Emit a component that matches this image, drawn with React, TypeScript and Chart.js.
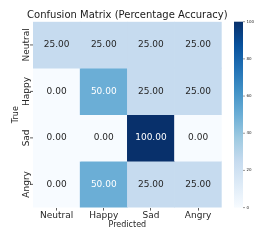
import React, { useEffect, useRef } from "react";
import { Chart, registerables } from "chart.js";

Chart.register(...registerables);

const predictedLabels = ["Neutral", "Happy", "Sad", "Angry"];
const trueLabels = ["Neutral", "Happy", "Sad", "Angry"];
const rowNeutral = [25, 25, 25, 25];
const rowHappy = [0, 50, 25, 25];
const rowSad = [0, 0, 100, 0];
const rowAngry = [0, 50, 25, 25];
const matrix = [rowNeutral, rowHappy, rowSad, rowAngry];
const colorbarTicks = [0, 20, 40, 60, 80, 100];
const titleText = "Confusion Matrix (Percentage Accuracy)";
const xTitle = "Predicted";
const yTitle = "True";

const FONT = "'DejaVu Sans', sans-serif";

const blues = ["#f7fbff", "#deebf7", "#c6dbef", "#9ecae1", "#6baed6", "#4292c6", "#2171b5", "#08519c", "#08306b"];

function hexToRgb(h: string) {
  return [parseInt(h.slice(1, 3), 16), parseInt(h.slice(3, 5), 16), parseInt(h.slice(5, 7), 16)];
}
function bluesColor(v: number) {
  const t = Math.max(0, Math.min(1, v / 100)) * (blues.length - 1);
  const i = Math.min(blues.length - 2, Math.floor(t));
  const f = t - i;
  const a = hexToRgb(blues[i]);
  const b = hexToRgb(blues[i + 1]);
  const c = a.map((x, k) => Math.round(x + (b[k] - x) * f));
  return `rgb(${c[0]},${c[1]},${c[2]})`;
}

export default function App() {
  const ref = useRef<HTMLCanvasElement | null>(null);
  useEffect(() => {
    document.body.style.margin = "0";
    const canvas = ref.current!;
    const overlay = {
      id: "overlay",
      afterDatasetsDraw(chart: any) {
        const ctx = chart.ctx;
        const ca = chart.chartArea;
        const xs = chart.scales.x;
        const ys = chart.scales.y;
        ctx.save();
        // cell values
        chart.data.datasets.forEach((ds: any, r: number) => {
          const meta = chart.getDatasetMeta(r);
          meta.data.forEach((el: any, c: number) => {
            const v = matrix[r][c];
            const p = el.getCenterPoint();
            ctx.fillStyle = v >= 40 ? "#ffffff" : "#262626";
            ctx.font = `9px ${FONT}`;
            ctx.textAlign = "center";
            ctx.textBaseline = "middle";
            ctx.fillText(v.toFixed(2), p.x, p.y);
          });
        });
        // y tick labels (rotated) and tick marks
        trueLabels.forEach((lab, r) => {
          const y = ys.getPixelForValue(r + 0.5);
          ctx.strokeStyle = "#333";
          ctx.lineWidth = 0.8;
          ctx.beginPath();
          ctx.moveTo(ca.left - 3, y);
          ctx.lineTo(ca.left, y);
          ctx.stroke();
          ctx.save();
          ctx.translate(ca.left - 4.5, y);
          ctx.rotate(-Math.PI / 2);
          ctx.fillStyle = "#262626";
          ctx.font = `9px ${FONT}`;
          ctx.textAlign = "center";
          ctx.textBaseline = "alphabetic";
          ctx.fillText(lab, 0, 0);
          ctx.restore();
        });
        // y title
        ctx.save();
        ctx.translate(18.3, (ca.top + ca.bottom) / 2);
        ctx.rotate(-Math.PI / 2);
        ctx.fillStyle = "#262626";
        ctx.font = `8px ${FONT}`;
        ctx.textAlign = "center";
        ctx.textBaseline = "alphabetic";
        ctx.fillText(yTitle, 0, 0);
        ctx.restore();
        // title
        ctx.fillStyle = "#1a1a1a";
        ctx.font = `10px ${FONT}`;
        ctx.textAlign = "center";
        ctx.textBaseline = "alphabetic";
        ctx.fillText(titleText, (ca.left + ca.right) / 2, 18.3);
        // colorbar
        const cb = chart.scales.cb;
        const cbL = ca.right + 12.3;
        const cbR = cbL + 9;
        const top = cb.getPixelForValue(100);
        const bot = cb.getPixelForValue(0);
        const g = ctx.createLinearGradient(0, bot, 0, top);
        blues.forEach((col, i) => g.addColorStop(i / (blues.length - 1), col));
        ctx.fillStyle = g;
        ctx.fillRect(cbL, top, cbR - cbL, bot - top);
        colorbarTicks.forEach((t) => {
          const y = cb.getPixelForValue(t);
          ctx.strokeStyle = "#333";
          ctx.lineWidth = 0.5;
          ctx.beginPath();
          ctx.moveTo(cbR, y);
          ctx.lineTo(cbR + 2, y);
          ctx.stroke();
          ctx.fillStyle = "#262626";
          ctx.font = `4px ${FONT}`;
          ctx.textAlign = "left";
          ctx.textBaseline = "middle";
          ctx.fillText(String(t), cbR + 3.5, y);
        });
        ctx.restore();
      },
    };
    const chart = new Chart(canvas, {
      type: "bar",
      data: {
        labels: predictedLabels,
        datasets: matrix.map((row, r) => ({
          label: trueLabels[r],
          data: row.map(() => 1),
          backgroundColor: row.map((v) => bluesColor(v)),
          borderWidth: 0,
          barPercentage: 1,
          categoryPercentage: 1,
        })),
      },
      options: {
        animation: false,
        responsive: false,
        maintainAspectRatio: false,
        layout: { padding: { left: 33, right: 44.3, top: 21.7, bottom: 13.2 } },
        plugins: { legend: { display: false }, tooltip: { enabled: false }, title: { display: false } },
        scales: {
          x: {
            stacked: true,
            grid: { display: true, drawOnChartArea: false, drawTicks: true, tickLength: 3, offset: false, color: "#333", lineWidth: 0.8 },
            border: { display: false },
            ticks: { font: { family: FONT, size: 9 }, color: "#262626", padding: 0, maxRotation: 0 },
            title: { display: true, text: xTitle, font: { family: FONT, size: 8, lineHeight: 0.8 }, color: "#262626", padding: { top: 0, bottom: 0 } },
          },
          y: { type: "linear", stacked: true, min: 0, max: 4, reverse: true, display: false },
          cb: { type: "linear", min: 0, max: 100, display: false, position: "right" },
        },
      },
      plugins: [overlay],
    });
    return () => chart.destroy();
  }, []);
  return (
    <div style={{ position: "absolute", left: 0, top: 0, width: 266, height: 241, background: "#fff" }}>
      <canvas ref={ref} width={266} height={241} style={{ display: "block", width: 266, height: 241 }} />
    </div>
  );
}
